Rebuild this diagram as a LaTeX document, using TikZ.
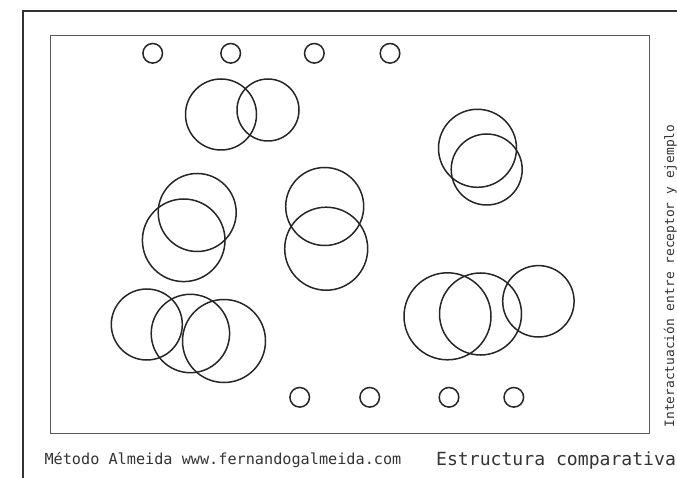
\documentclass[tikz,border=0pt]{standalone}
\usepackage{fontspec}
\newfontfamily\monofont{DejaVu Sans Mono}
\begin{document}
\begin{tikzpicture}[x=1pt,y=-1pt,
  ring/.style={draw=black!85, line width=1.5pt, circle, inner sep=0pt, minimum size=#1},
  dot/.style={ring=19.6pt},
  label/.style={inner sep=0pt, text=black!80}]
\useasboundingbox (0,0) rectangle (677,478);
% frames
\draw[line width=2pt, draw=black!80] (22.7,480) -- (22.7,10.7) -- (680,10.7);
\draw[line width=1.4pt, draw=black!65] (50.3,35.3) rectangle (649.7,433.3);
% top small circles
\node[dot] (t1) at (152.7,53.3) {};
\node[dot] (t2) at (230.7,53.3) {};
\node[dot] (t3) at (314.3,53.3) {};
\node[dot] (t4) at (390,53.3) {};
% bottom small circles
\node[dot] (b1) at (299.7,397.3) {};
\node[dot] (b2) at (369.7,397.3) {};
\node[dot] (b3) at (449,397.3) {};
\node[dot] (b4) at (513.8,397.3) {};
% top pair
\node[ring=71pt] (p1a) at (221,114.5) {};
\node[ring=62pt] (p1b) at (268,110) {};
% right pair
\node[ring=78pt] (p2a) at (477.5,148.3) {};
\node[ring=71pt] (p2b) at (486.7,169.5) {};
% left middle pair
\node[ring=78pt] (p3a) at (197.2,212.5) {};
\node[ring=82.6pt] (p3b) at (183.7,240.3) {};
% middle pair
\node[ring=78pt] (p4a) at (324.7,206.5) {};
\node[ring=83pt] (p4b) at (326.2,248.7) {};
% bottom left trio
\node[ring=71pt] (q1a) at (146.8,324.5) {};
\node[ring=78.4pt] (q1b) at (190.4,333.5) {};
\node[ring=83pt] (q1c) at (224,341) {};
% bottom right trio
\node[ring=87pt] (q2a) at (447.5,316.3) {};
\node[ring=82pt] (q2b) at (480.5,314) {};
\node[ring=71.4pt] (q2c) at (538.4,301.3) {};
% texts
\node[label, anchor=base west, font=\monofont\fontsize{15.2pt}{18pt}\selectfont] (foot1) at (44.3,464) {Método Almeida www.fernandogalmeida.com};
\node[label, anchor=base west, font=\monofont\fontsize{18.1pt}{22pt}\selectfont] (foot2) at (436,465) {Estructura comparativa};
\node[label, rotate=90, anchor=base west, font=\monofont\fontsize{12.9pt}{15pt}\selectfont] (side) at (674,427.7) {Interactuación entre receptor y ejemplo};
\end{tikzpicture}
\end{document}
